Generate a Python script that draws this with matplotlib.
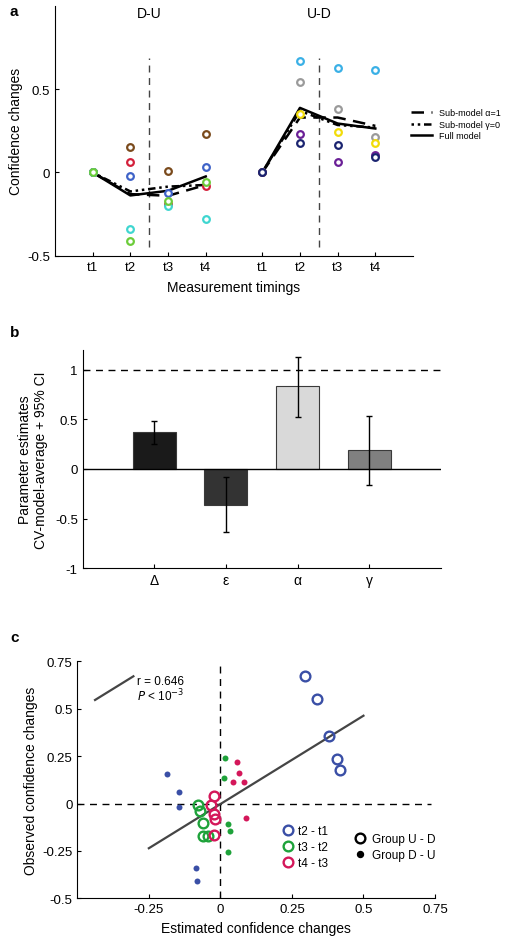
"""Confidence changes figure: model fits (a), parameter estimates (b), observed vs estimated (c)."""
import numpy as np
import matplotlib
matplotlib.use("Agg")
import matplotlib.pyplot as plt
from matplotlib.lines import Line2D

plt.rcParams['font.family'] = ['Liberation Sans', 'DejaVu Sans']
plt.rcParams['font.size'] = 9.5

# ---- panel a data ----
timings = ['t1', 't2', 't3', 't4']
pos_du = [1, 2, 3, 4]
pos_ud = [5.5, 6.5, 7.5, 8.5]

# individual subjects, D-U group
du_colors = ['#7a4a1c', '#d3203a', '#3f63c8', '#3fd6d0', '#6ccc3a']
du_subjects = [
    [0, 0.155, 0.01, 0.23],
    [0, 0.063, -0.19, -0.083],
    [0, -0.02, -0.125, 0.035],
    [0, -0.34, -0.20, -0.277],
    [0, -0.41, -0.172, -0.06],
]
# individual subjects, U-D group
ud_colors = ['#3ab0e6', '#9a9a9a', '#f2dc0a', '#6a1f96', '#1b2470']
ud_subjects = [
    [0, 0.67, 0.63, 0.618],
    [0, 0.546, 0.38, 0.214],
    [0, 0.35, 0.246, 0.18],
    [0, 0.234, 0.062, 0.106],
    [0, 0.176, 0.168, 0.094],
]
# model predictions
full_du = [0, -0.138, -0.11, -0.024]
alpha1_du = [0, -0.13, -0.14, -0.075]
gamma0_du = [0, -0.114, -0.085, -0.075]
full_ud = [0, 0.388, 0.294, 0.264]
alpha1_ud = [0, 0.33, 0.33, 0.28]
gamma0_ud = [0, 0.37, 0.285, 0.27]

# ---- panel b data ----
params = ['Δ', 'ε', 'α', 'γ']
estimates = [0.37, -0.36, 0.83, 0.188]
ci_low = [0.25, -0.638, 0.525, -0.16]
ci_high = [0.48, -0.083, 1.125, 0.537]
bar_colors = ['#1a1a1a', '#333333', '#d9d9d9', '#808080']

# ---- panel c data ----
diff_labels = ['t2 - t1', 't3 - t2', 't4 - t3']
diff_colors = ['#3a4fa6', '#1ea23a', '#d4175a']
ud_est = [
    [0.294, 0.336, 0.378, 0.408, 0.419],
    [-0.079, -0.071, -0.06, -0.059, -0.045],
    [-0.023, -0.032, -0.023, -0.02, -0.023],
]
ud_obs = [
    [0.671, 0.549, 0.354, 0.236, 0.178],
    [-0.007, -0.039, -0.104, -0.171, -0.171],
    [0.04, -0.01, -0.057, -0.08, -0.166],
]
du_est = [
    [-0.186, -0.144, -0.143, -0.085, -0.083],
    [0.016, 0.014, 0.027, 0.034, 0.027],
    [0.057, 0.065, 0.044, 0.084, 0.09],
]
du_obs = [
    [0.156, 0.061, -0.02, -0.34, -0.41],
    [0.238, 0.135, -0.106, -0.145, -0.256],
    [0.218, 0.16, 0.113, 0.113, -0.074],
]
fit_x = [-0.25, 0.5]
fit_y = [-0.236, 0.463]
r_value = 0.646

W, H = 512, 945
fig = plt.figure(figsize=(W / 100, H / 100), dpi=100)


def rect(l, t, r, b):
    return [l / W, 1 - b / H, (r - l) / W, (b - t) / H]


def style_axes(ax):
    for s in ['top', 'right']:
        ax.spines[s].set_visible(False)
    ax.tick_params(direction='in', length=3, width=0.8, labelsize=9.5)


# ================= panel a =================
ax = fig.add_axes(rect(55, 7, 413, 256.7))
style_axes(ax)
ax.set_xlim(0, 9.5)
ax.set_ylim(-0.5, 1.0)
ax.vlines([2.5, 7.0], -0.45, 0.69, colors='#444444', linestyles=(0, (5, 4)), lw=1)
for pos, a1, g0, full in [(pos_du, alpha1_du, gamma0_du, full_du),
                          (pos_ud, alpha1_ud, gamma0_ud, full_ud)]:
    ax.plot(pos, a1, color='black', ls=(0, (5, 3)), lw=1.8)
    ax.plot(pos, g0, color='black', ls=(0, (1, 1.5, 1, 1.5, 3, 1.5)), lw=1.8)
    ax.plot(pos, full, color='black', lw=1.8)
for pos, subj, cols in [(pos_du, du_subjects, du_colors), (pos_ud, ud_subjects, ud_colors)]:
    for vals, c in zip(subj, cols):
        ax.plot(pos, vals, 'o', ls='none', ms=4.8, mfc='white', mec=c, mew=1.6, zorder=5)
ax.set_xticks(pos_du + pos_ud)
ax.set_xticklabels(timings + timings)
ax.set_yticks([-0.5, 0, 0.5])
ax.set_yticklabels(['-0.5', '0', '0.5'])
ax.text(2.5, 0.955, 'D-U', ha='center', va='center', fontsize=10)
ax.text(7.0, 0.955, 'U-D', ha='center', va='center', fontsize=10)
ax.set_xlabel('Measurement timings', fontsize=10, labelpad=5)
ax.set_ylabel('Confidence changes', fontsize=10, labelpad=3)
handles = [Line2D([], [], color='black', ls=(0, (5, 3)), lw=1.8),
           Line2D([], [], color='black', ls=(0, (1, 1.5, 1, 1.5, 3, 1.5)), lw=1.8),
           Line2D([], [], color='black', lw=1.8)]
fig.legend(handles, ['Sub-model α=1', 'Sub-model γ=0', 'Full model'],
           loc='upper left', bbox_to_anchor=(411 / W, 1 - 109 / H), frameon=False,
           fontsize=6.5, handlelength=2.3, handletextpad=0.8, labelspacing=0.3,
           borderpad=0, borderaxespad=0)
fig.text(10 / W, 1 - 12 / H, 'a', fontsize=11, fontweight='bold', va='center')

# ================= panel b =================
ax = fig.add_axes(rect(82.7, 350.7, 440.7, 569.3))
style_axes(ax)
ax.set_xlim(0, 5)
ax.set_ylim(-1, 1.2)
xb = np.arange(1, len(params) + 1)
est = np.array(estimates)
yerr = [est - np.array(ci_low), np.array(ci_high) - est]
ax.bar(xb, est, width=0.6, color=bar_colors, edgecolor='#3a3a3a', lw=0.8, zorder=2)
ax.errorbar(xb, est, yerr=yerr, fmt='none', ecolor='black', elinewidth=1, capsize=2, capthick=1, zorder=3)
ax.axhline(0, color='black', lw=1, zorder=2.5)
ax.axhline(1, color='black', lw=1, ls=(0, (5, 4)))
ax.set_xticks(xb)
ax.set_xticklabels(params, fontsize=10)
ax.set_yticks([-1, -0.5, 0, 0.5, 1])
ax.set_yticklabels(['-1', '-0.5', '0', '0.5', '1'])
ax.set_ylabel('Parameter estimates\nCV-model-average + 95% CI', fontsize=10, labelpad=5)
fig.text(10 / W, 1 - 333 / H, 'b', fontsize=11, fontweight='bold', va='center')

# ================= panel c =================
ax = fig.add_axes(rect(77.3, 662.3, 435, 899.3))
style_axes(ax)
ax.set_xlim(-0.5, 0.75)
ax.set_ylim(-0.5, 0.75)
ax.axhline(0, xmax=0.99, color='black', lw=1, ls=(0, (5, 4)))
ax.axvline(0, color='black', lw=1, ls=(0, (5, 4)))
ax.plot(fit_x, fit_y, color='#454545', lw=1.6, zorder=3)
for c, xe, yo in zip(diff_colors, ud_est, ud_obs):
    ax.plot(xe, yo, 'o', ls='none', ms=7, mfc='none', mec=c, mew=1.7, zorder=4)
for c, xe, yo in zip(diff_colors, du_est, du_obs):
    ax.plot(xe, yo, 'o', ls='none', ms=4.3, color=c, mec='none', zorder=4)

# slanted key next to the r value, same slope as the fit
slope = (fit_y[1] - fit_y[0]) / (fit_x[1] - fit_x[0])
kx = np.array([-0.438, -0.304])
ax.plot(kx, 0.546 + slope * (kx - kx[0]), color='#454545', lw=1.6, clip_on=False)
ax.text(-0.29, 0.645, f'r = {r_value}', fontsize=8.5, va='center')
ax.text(-0.29, 0.572, r'$P$ < 10$^{-3}$', fontsize=8.5, va='center')

h1 = [Line2D([], [], marker='o', ls='none', ms=7, mfc='none', mec=c, mew=1.7) for c in diff_colors]
leg1 = ax.legend(h1, diff_labels, loc='upper left', bbox_to_anchor=(0.565, 0.31),
                 frameon=False, fontsize=8.5, handletextpad=0.1, labelspacing=0.35,
                 borderpad=0, borderaxespad=0, handlelength=1.5)
ax.add_artist(leg1)
h2 = [Line2D([], [], marker='o', ls='none', ms=7, mfc='none', mec='black', mew=1.7),
      Line2D([], [], marker='o', ls='none', ms=4.3, color='black')]
ax.legend(h2, ['Group U - D', 'Group D - U'], loc='upper left', bbox_to_anchor=(0.765, 0.275),
          frameon=False, fontsize=8.5, handletextpad=0.3, labelspacing=0.35,
          borderpad=0, borderaxespad=0, handlelength=1.5)
ax.set_xticks([-0.25, 0, 0.25, 0.5, 0.75])
ax.set_xticklabels(['-0.25', '0', '0.25', '0.5', '0.75'])
ax.set_yticks([-0.5, -0.25, 0, 0.25, 0.5, 0.75])
ax.set_yticklabels(['-0.5', '-0.25', '0', '0.25', '0.5', '0.75'])
ax.set_xlabel('Estimated confidence changes', fontsize=10, labelpad=4)
ax.set_ylabel('Observed confidence changes', fontsize=10, labelpad=3)
fig.text(10 / W, 1 - 638 / H, 'c', fontsize=11, fontweight='bold', va='center')

fig.savefig('out.png', dpi=100)
